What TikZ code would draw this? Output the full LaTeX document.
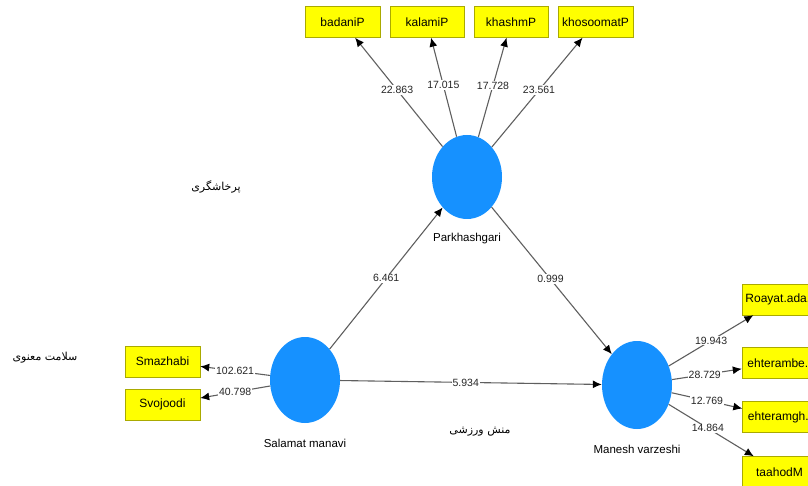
\documentclass[tikz,border=0pt]{standalone}
\usepackage{fontspec}
\setmainfont{Liberation Sans}
\newfontfamily\farsifont[Script=Arabic]{DejaVu Sans}
\TeXXeTstate=1
\usetikzlibrary{shapes, arrows.meta}

\definecolor{latentblue}{RGB}{22,145,255}
\definecolor{itemyellow}{RGB}{255,255,0}
\definecolor{itemborder}{RGB}{170,170,0}
\definecolor{pathgray}{RGB}{95,95,95}

\tikzset{
    latent/.style={ellipse, fill=latentblue, minimum width=70pt, minimum height=84pt, inner sep=0pt},
    indicator/.style={rectangle, draw=itemborder, fill=itemyellow, minimum width=75pt, minimum height=31pt,
        inner sep=1pt, font=\fontsize{12}{14}\selectfont},
    weight/.style={fill=white, inner sep=1pt, text=black!85, font=\fontsize{10.5}{12}\selectfont},
    farsi/.style={font=\farsifont\fontsize{11}{13}\selectfont},
    link/.style={draw=pathgray, line width=1.1pt, -{Latex[length=9pt,width=8pt,color=black]}}
}

\begin{document}
\begin{tikzpicture}[x=1pt, y=-1pt, font=\fontsize{11.5}{13}\selectfont]
    \useasboundingbox (0,0) rectangle (808,486);

    % latent variables
    \node[latent, label={[label distance=10pt]below:Parkhashgari}] (park) at (467,177) {};
    \node[latent, minimum height=86pt, label={[label distance=12pt]below:Salamat manavi}] (salamat) at (305,380) {};
    \node[latent, minimum height=88pt, label={[label distance=12pt]below:Manesh varzeshi}] (manesh) at (637,385) {};

    % indicators
    \node[indicator] (badani) at (342.5,22) {badaniP};
    \node[indicator, minimum width=74pt] (kalami) at (427,22) {kalamiP};
    \node[indicator, minimum width=74pt] (khashm) at (511,22) {khashmP};
    \node[indicator] (khosoomat) at (595.5,22) {khosoomatP};

    \node[indicator] (smazhabi) at (162.5,361.5) {Smazhabi};
    \node[indicator] (svojoodi) at (162.5,404.5) {Svojoodi};

    \node[indicator] (roayat) at (779.5,299.5) {Roayat.ada..};
    \node[indicator] (ehterambe) at (779.5,363) {ehterambe..};
    \node[indicator] (ehteramgh) at (780,417) {ehteramgh..};
    \node[indicator] (taahod) at (779.5,472) {taahodM};

    % persian captions
    \node[farsi] (parkfa) at (216,187) {\beginR پرخاشگری\endR};
    \node[farsi] (salamatfa) at (45,358) {\beginR سلامت معنوی\endR};
    \node[farsi] (maneshfa) at (480,432) {\beginR منش ورزشی\endR};

    \path[link]
        (park) edge node[weight, pos=0.52] {22.863} (badani)
        (park) edge node[weight, pos=0.52] {17.015} (kalami)
        (park) edge node[weight, pos=0.52] {17.728} (khashm)
        (park) edge node[weight, pos=0.52] {23.561} (khosoomat)

        (salamat) edge node[weight] {102.621} (smazhabi)
        (salamat) edge node[weight] {40.798} (svojoodi)

        (manesh) edge node[weight] {19.943} (roayat)
        (manesh) edge node[weight, pos=0.47] {28.729} (ehterambe)
        (manesh) edge node[weight] {12.769} (ehteramgh)
        (manesh) edge node[weight, pos=0.46] {14.864} (taahod)

        (salamat) edge node[weight] {6.461} (park)
        (park) edge node[weight, pos=0.49] {0.999} (manesh)
        (salamat) edge node[weight, pos=0.48] {5.934} (manesh)
    ;

\end{tikzpicture}
\end{document}
